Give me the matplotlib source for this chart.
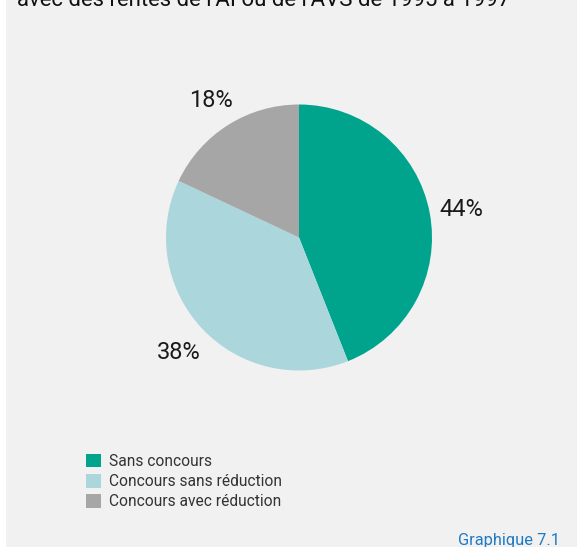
import matplotlib
matplotlib.use('Agg')
import matplotlib.pyplot as plt
from matplotlib.patches import Rectangle, Patch

# data
# ---
categories = ['Sans concours', 'Concours sans réduction', 'Concours avec réduction']
shares = [44, 38, 18]
colours = ['#00a48c', '#abd7dc', '#a6a6a6']

title = "avec des rentes de l'AI ou de l'AVS de 1995 à 1997"
fig_label = 'Graphique 7.1'

plt.rcParams['font.family'] = ['Roboto', 'DejaVu Sans']

W, H = 577, 547
fig = plt.figure(figsize=(W/100, H/100), dpi=100)
fig.patch.set_facecolor('white')

# grey panel behind everything
fig.patches.append(Rectangle((6/W, 0), 1, 1, transform=fig.transFigure,
                             facecolor='#f1f1f1', edgecolor='none', zorder=-5))

# title, cut off at the top as in the source
fig.text(17/W, 1 - 6/H, title, fontsize=15.9, color='#111111', va='baseline', ha='left')

# pie
cx, cy, r = 299, 237.5, 133
ax = fig.add_axes([(cx - r)/W, (H - cy - r)/H, 2*r/W, 2*r/H])
ax.set_facecolor('none')
wedges, texts, autotexts = ax.pie(shares, colors=colours, startangle=90, counterclock=False,
                                  radius=1, autopct='%.0f%%', pctdistance=1.24,
                                  textprops={'fontsize': 17, 'color': '#1a1a1a'},
                                  wedgeprops={'linewidth': 0})
for t in autotexts:
    t.set_va('center_baseline')
ax.set_xlim(-1, 1)
ax.set_ylim(-1, 1)
ax.set_aspect('equal')
ax.axis('off')

# legend
handles = [Patch(facecolor=c, edgecolor='none') for c in colours]
fig.legend(handles, categories, loc='upper left', bbox_to_anchor=(86/W, 1 - 454/H),
           frameon=False, fontsize=11.2, handlelength=0.95, handleheight=0.95,
           handletextpad=0.5, labelspacing=0.33, borderpad=0, borderaxespad=0,
           labelcolor='#333333')

fig.text(560/W, 1 - 541/H, fig_label, fontsize=11.8, color='#1f7ac4', ha='right', va='center')

plt.savefig('out.png', dpi=100, facecolor=fig.get_facecolor())
plt.close()
